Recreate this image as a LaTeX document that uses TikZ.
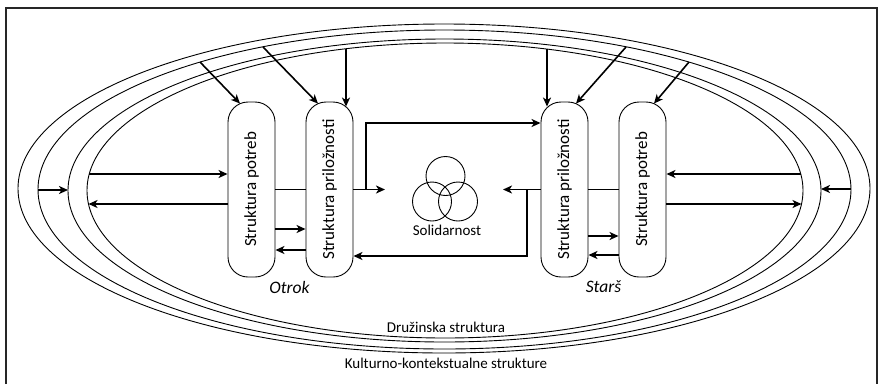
\documentclass[tikz,border=0pt]{standalone}
\usepackage{fontspec}
\setmainfont{Carlito}
\usetikzlibrary{arrows.meta,calc}
\begin{document}
\begin{tikzpicture}[x=1pt,y=-1pt,
  ring/.style={line width=0.9pt},
  box/.style={draw, line width=0.9pt, rounded corners=20pt, minimum width=47pt, minimum height=175pt, inner sep=0pt},
  boxtext/.style={rotate=90, inner sep=0pt, font=\fontsize{17}{17}\selectfont},
  arr/.style={line width=1.6pt, -{Stealth[length=9pt,width=8pt,inset=2.5pt]}},
  ln/.style={line width=1.6pt},
  venn/.style={circle, draw, line width=0.9pt, minimum size=39pt, inner sep=0pt},
  role/.style={font=\fontsize{17.5}{17.5}\selectfont\itshape, inner sep=0pt},
  lab/.style={font=\fontsize{15}{15}\selectfont, inner sep=0pt},
]
\useasboundingbox (0,0) rectangle (883,384);
% frame
\draw[line width=1.1pt, black!85] (6,384) -- (6,8) -- (877,8) -- (877,384);

% rings
\draw[ring] (444,188.5) ellipse [x radius=426pt, y radius=164.5pt];
\draw[ring] (444.5,189.5) ellipse [x radius=406.5pt, y radius=159.5pt];
\draw[ring] (444.5,190.5) ellipse [x radius=376.5pt, y radius=151.5pt];
\draw[ring] (445,190.5) ellipse [x radius=358pt, y radius=147.5pt];

% boxes
\node[box] (lpot) at (251.5,189.5) {};
\node[box] (lpri) at (329.5,189.5) {};
\node[box] (rpri) at (564.5,189.5) {};
\node[box] (rpot) at (642.5,189.5) {};
\node[boxtext] (tlpot) at (lpot.center) {Struktura potreb};
\node[boxtext] (tlpri) at (lpri.center) {Struktura priložnosti};
\node[boxtext] (trpri) at (rpri.center) {Struktura priložnosti};
\node[boxtext] (trpot) at (rpot.center) {Struktura potreb};

% solidarity
\node[venn] (v1) at (445.5,176) {};
\node[venn] (v2) at (432,201.5) {};
\node[venn] (v3) at (458,201.5) {};
\node[lab] (sol) at (447,230) {Solidarnost};

% labels
\node[role] (otrok) at (289.5,287) {Otrok};
\node[role] (stars) at (603.5,287) {Starš};
\node[lab] (druz) at (446,327) {Družinska struktura};
\node[lab] (kult) at (446,363) {Kulturno-kontekstualne strukture};

% top arrows
\coordinate (s1) at (200,62);
\coordinate (s2) at (263,47);
\coordinate (s3) at (346,49);
\coordinate (s4) at (689,62);
\coordinate (s5) at (626,47);
\coordinate (s6) at (547,49);
\draw[arr] (s1) -- ($(lpot.north)+(-11.5,2)$);
\draw[arr] (s2) -- ($(lpri.north)+(-11.5,2)$);
\draw[arr] (s3) -- (s3 |- {$(lpri.north)+(0,5)$});
\draw[arr] (s4) -- ($(rpot.north)+(11.5,2)$);
\draw[arr] (s5) -- ($(rpri.north)+(11.5,2)$);
\draw[arr] (s6) -- (s6 |- {$(rpri.north)+(0,5)$});

% left side horizontal
\coordinate (e2l) at (38,190);
\coordinate (e3l) at (68,190);
\draw[arr] (e2l) -- (e3l);
\coordinate (e4a) at (89,174);
\coordinate (e4b) at (88.5,204);
\draw[arr] (e4a) -- (e4a -| lpot.west);
\draw[arr] (e4b -| lpot.west) -- (e4b);

% right side horizontal
\coordinate (e2r) at (851,189);
\coordinate (e3r) at (821,189);
\draw[arr] (e2r) -- (e3r);
\coordinate (e4c) at (800.7,174);
\coordinate (e4d) at (801.5,204);
\draw[arr] (e4c) -- (e4c -| rpot.east);
\draw[arr] (e4d -| rpot.east) -- (e4d);

% between left boxes
\coordinate (ya) at (0,229);
\coordinate (yb) at (0,250);
\draw[ln] (lpot.east) -- (lpri.west);
\draw[arr] (lpot.east |- ya) -- (lpri.west |- ya);
\draw[arr] (lpri.west |- yb) -- (lpot.east |- yb);

% between right boxes
\coordinate (yc) at (0,236);
\coordinate (yd) at (0,255);
\draw[ln] (rpri.east) -- (rpot.west);
\draw[arr] (rpri.east |- yc) -- (rpot.west |- yc);
\draw[arr] (rpot.west |- yd) -- (rpri.east |- yd);

% to / from solidarity
\coordinate (sl) at (385,189.5);
\coordinate (sr) at (503,189.5);
\draw[arr] (lpri.east) -- (sl);
\draw[arr] (rpri.west) -- (sr);
\coordinate (jl) at (366,189.5);
\coordinate (jlt) at (366,123);
\draw[arr] (jl) -- (jlt) -- (jlt -| rpri.west);
\coordinate (jr) at (527,189.5);
\coordinate (jrb) at (527,256);
\draw[arr] (jr) -- (jrb) -- (jrb -| lpri.east);
\end{tikzpicture}
\end{document}
